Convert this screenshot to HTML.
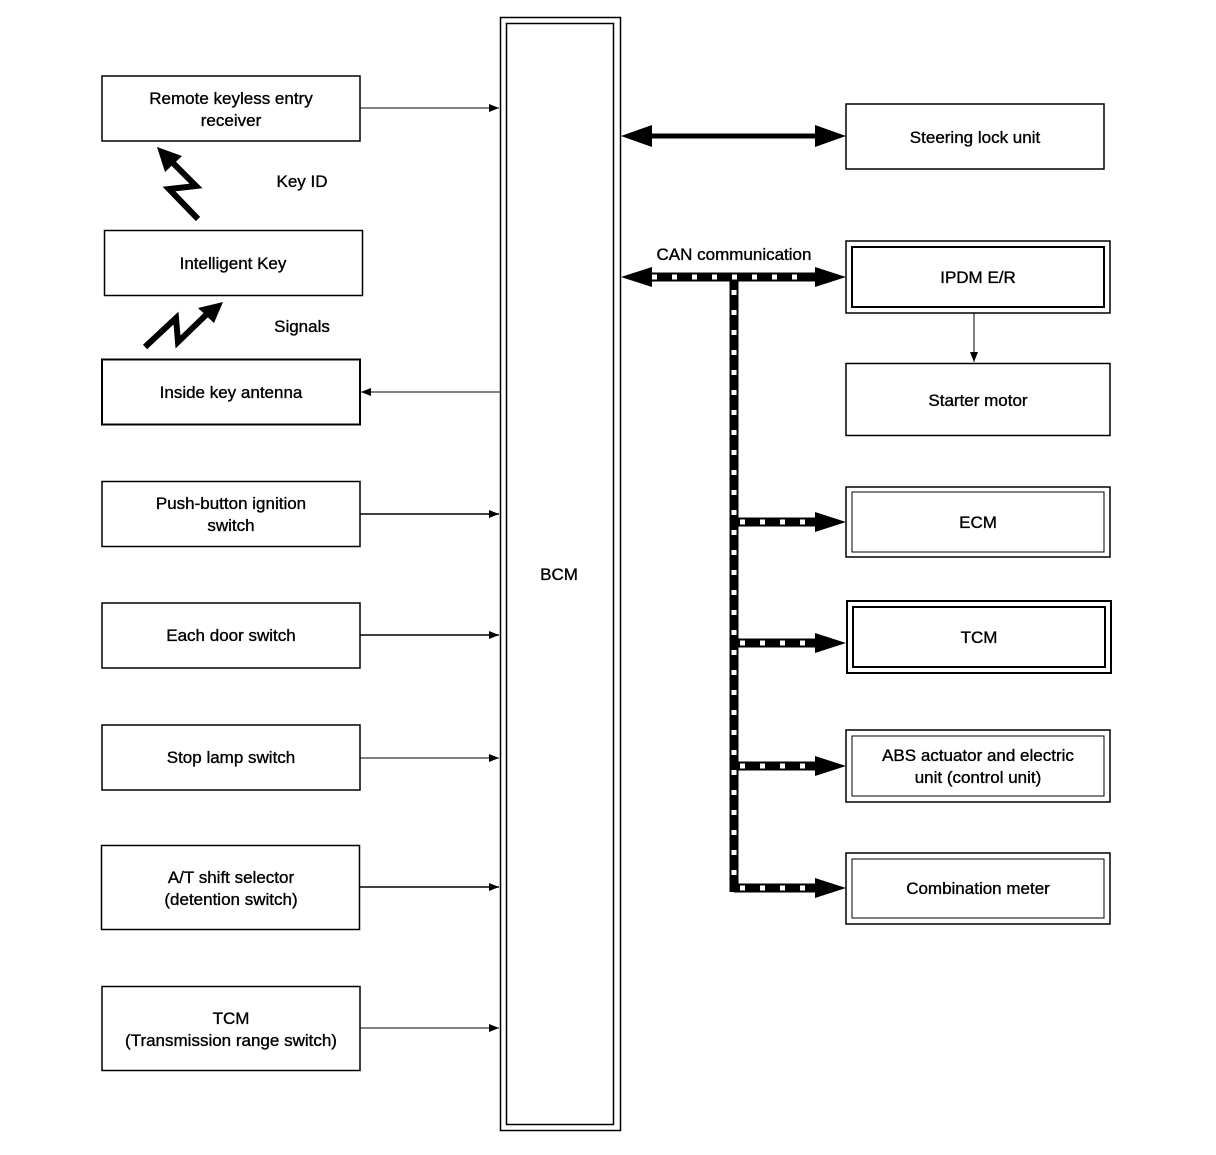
<!DOCTYPE html>
<html><head><meta charset="utf-8"><style>
html,body{margin:0;padding:0;background:#fff}
svg text{font-family:"Liberation Sans",Arial,sans-serif;font-size:17px;fill:#000;stroke:#000;stroke-width:0.35;text-anchor:middle}
</style></head><body>
<svg width="1216" height="1150" viewBox="0 0 1216 1150" xmlns="http://www.w3.org/2000/svg">
<defs>
<marker id="a" markerWidth="10" markerHeight="8" refX="10" refY="4" orient="auto" markerUnits="userSpaceOnUse"><path d="M0,0 L10,4 L0,8 z" fill="#000"/></marker>
</defs>
<g fill="none" stroke="#000">
<rect x="500.5" y="17.5" width="120" height="1113" stroke-width="1.5"/>
<rect x="506.5" y="23.5" width="107" height="1101" stroke-width="1.5"/>
<rect x="102" y="76" width="258" height="65" stroke-width="1.5"/>
<rect x="104.5" y="230.5" width="258" height="65" stroke-width="1.5"/>
<rect x="102" y="359.5" width="258" height="65" stroke-width="2"/>
<rect x="102" y="481.5" width="258" height="65" stroke-width="1.5"/>
<rect x="102" y="603" width="258" height="65" stroke-width="1.5"/>
<rect x="102" y="725" width="258" height="65" stroke-width="1.5"/>
<rect x="101.5" y="845.5" width="258" height="84" stroke-width="1.5"/>
<rect x="102" y="986.5" width="258" height="84" stroke-width="1.5"/>
<rect x="846" y="104" width="258" height="65" stroke-width="1.5"/>
<rect x="846" y="241" width="264" height="72" stroke-width="1.5"/>
<rect x="852" y="247" width="252" height="60" stroke-width="2"/>
<rect x="846" y="363.5" width="264" height="72" stroke-width="1.5"/>
<rect x="846" y="487" width="264" height="70" stroke-width="1.5"/>
<rect x="852" y="492" width="252" height="60" stroke-width="1"/>
<rect x="847" y="601" width="264" height="72" stroke-width="2"/>
<rect x="853" y="607" width="252" height="60" stroke-width="2"/>
<rect x="846" y="730" width="264" height="72" stroke-width="1.5"/>
<rect x="852" y="736" width="252" height="60" stroke-width="1"/>
<rect x="846" y="853" width="264" height="71" stroke-width="1.5"/>
<rect x="852" y="859" width="252" height="59" stroke-width="1"/>
<line x1="360" y1="108" x2="499" y2="108" stroke-width="1" marker-end="url(#a)"/>
<line x1="500" y1="392" x2="361" y2="392" stroke-width="1" marker-end="url(#a)"/>
<line x1="360" y1="514" x2="499" y2="514" stroke-width="1.5" marker-end="url(#a)"/>
<line x1="360" y1="635" x2="499" y2="635" stroke-width="1.5" marker-end="url(#a)"/>
<line x1="360" y1="758" x2="499" y2="758" stroke-width="1" marker-end="url(#a)"/>
<line x1="360" y1="887" x2="499" y2="887" stroke-width="1.5" marker-end="url(#a)"/>
<line x1="360" y1="1028" x2="499" y2="1028" stroke-width="1" marker-end="url(#a)"/>
<line x1="974" y1="313" x2="974" y2="362" stroke-width="1" marker-end="url(#a)"/>
<line x1="650" y1="136" x2="816" y2="136" stroke-width="5"/>
</g>
<path d="M621,136 L652,125 L652,147 z M846,136 L815,125 L815,147 z" fill="#000"/>
<g fill="none">
<g stroke="#000" stroke-width="9">
<path d="M650,277 L816,277 M734,277 L734,892 M734,522 L816,522 M734,643 L816,643 M734,766 L816,766 M734,888 L816,888"/>
</g>
<g stroke="#fff" stroke-width="5" stroke-dasharray="5 15">
<path d="M652,277 L812,277"/>
<path d="M734,290 L734,890"/>
<path d="M740,522 L812,522 M740,643 L812,643 M740,766 L812,766 M740,888 L812,888"/>
</g>
</g>
<path d="M621,277 L652,267 L652,287 z M846,277 L815,267 L815,287 z M846,522 L815,512 L815,532 z M846,643 L815,633 L815,653 z M846,766 L815,756 L815,776 z M846,888 L815,878 L815,898 z" fill="#000"/>
<g fill="none" stroke="#000" stroke-width="6" stroke-linejoin="miter">
<polyline points="198,219 169,189 196,186 170,160"/>
<polyline points="145,347 176,318 178,342 208,313"/>
</g>
<path d="M157,147 L182,156 L165,172 z" fill="#000"/>
<path d="M223,302 L198,308 L214,323 z" fill="#000"/>
<text x="231" y="104">Remote keyless entry</text>
<text x="231" y="126">receiver</text>
<text x="302" y="187">Key ID</text>
<text x="233" y="269">Intelligent Key</text>
<text x="302" y="332">Signals</text>
<text x="231" y="398">Inside key antenna</text>
<text x="231" y="509">Push-button ignition</text>
<text x="231" y="531">switch</text>
<text x="231" y="641">Each door switch</text>
<text x="231" y="763">Stop lamp switch</text>
<text x="231" y="883">A/T shift selector</text>
<text x="231" y="905">(detention switch)</text>
<text x="231" y="1024">TCM</text>
<text x="231" y="1046">(Transmission range switch)</text>
<text x="559" y="580">BCM</text>
<text x="975" y="143">Steering lock unit</text>
<text x="734" y="260">CAN communication</text>
<text x="978" y="283">IPDM E/R</text>
<text x="978" y="406">Starter motor</text>
<text x="978" y="528">ECM</text>
<text x="979" y="643">TCM</text>
<text x="978" y="761">ABS actuator and electric</text>
<text x="978" y="783">unit (control unit)</text>
<text x="978" y="894">Combination meter</text>
</svg>
</body></html>
